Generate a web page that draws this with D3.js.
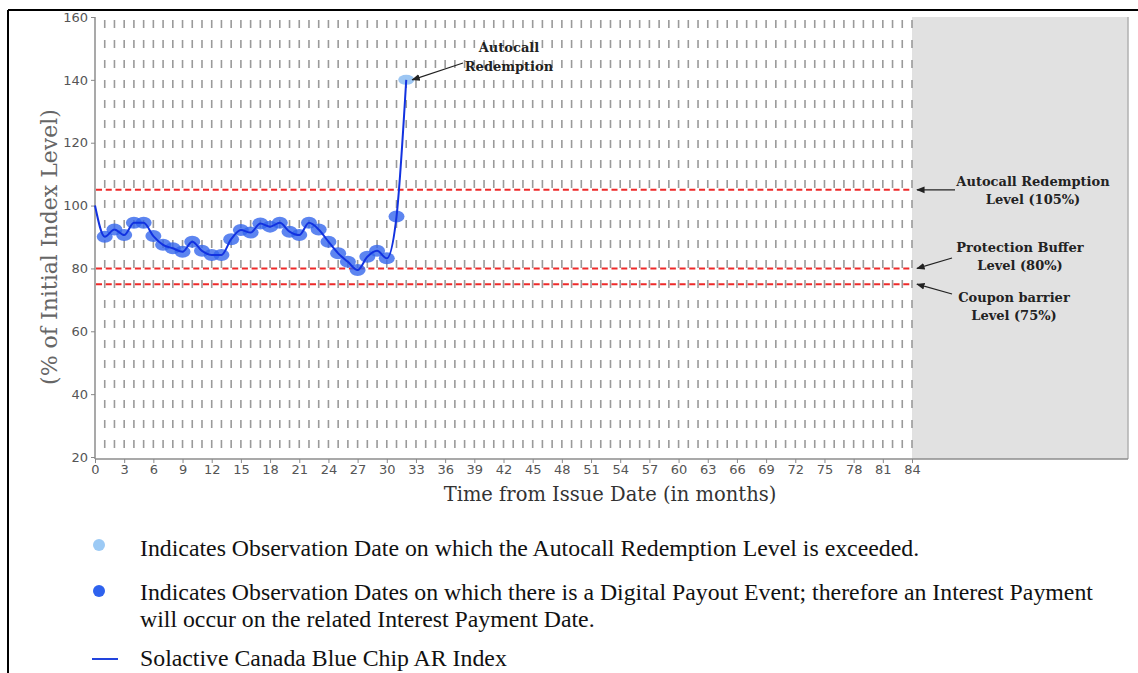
<!DOCTYPE html>
<html>
<head>
<meta charset="utf-8">
<script src="https://cdn.jsdelivr.net/npm/d3@7"></script>
<style>
  body { margin: 0; background: #fff; }
  svg { display: block; }
</style>
</head>
<body>
<div id="chart"></div>
<script>
// chart values
var months = [0, 1, 2, 3, 4, 5, 6, 7, 8, 9, 10, 11, 12, 13, 14, 15, 16, 17, 18, 19, 20, 21, 22, 23, 24, 25, 26, 27, 28, 29, 30, 31, 32];
var levels = [100, 90.1, 92.4, 90.6, 94.5, 94.5, 90.3, 87.5, 86.4, 85.3, 88.5, 85.6, 84.3, 84.3, 89.3, 92.2, 91.4, 94.3, 93.3, 94.5, 91.7, 90.6, 94.5, 92.4, 88.5, 84.8, 82.1, 79.5, 83.7, 85.6, 83.2, 96.5, 140];
var payoutMonths = d3.range(1, 32);
var autocallMonth = 32;
var barriers = [105, 80, 75];
var xTicks = d3.range(0, 85, 3);
var yTicks = [20, 40, 60, 80, 100, 120, 140, 160];
var legendTexts = [
  ["Indicates Observation Date on which the Autocall Redemption Level is exceeded."],
  ["Indicates Observation Dates on which there is a Digital Payout Event; therefore an Interest Payment", "will occur on the related Interest Payment Date."],
  ["Solactive Canada Blue Chip AR Index"]
];

var svgWidth = 1138, svgHeight = 673;

// plot area in page pixels
var plot = { left: 95, right: 1128, top: 17, bottom: 459 };

var svg = d3.select("#chart").append("svg")
  .attr("width", svgWidth)
  .attr("height", svgHeight);

var defs = svg.append("defs");
defs.append("marker")
  .attr("id", "arrow")
  .attr("viewBox", "0 0 10 10")
  .attr("refX", 9).attr("refY", 5)
  .attr("markerWidth", 7).attr("markerHeight", 7)
  .attr("orient", "auto")
  .append("path")
  .attr("d", "M0,1 L10,5 L0,9 z")
  .attr("fill", "#222");

var x = d3.scaleLinear().domain([0, 84]).range([plot.left, 912]);
var y = d3.scaleLinear().domain([20, 160]).range([457, 17]);

// page frame
svg.append("line").attr("x1", 8).attr("x2", 1138).attr("y1", 10).attr("y2", 10)
  .attr("stroke", "#000").attr("stroke-width", 2);
svg.append("line").attr("x1", 8).attr("x2", 8).attr("y1", 10).attr("y2", 673)
  .attr("stroke", "#000").attr("stroke-width", 2);

// grey zone after maturity
svg.append("rect")
  .attr("x", x(84)).attr("y", plot.top)
  .attr("width", plot.right - x(84)).attr("height", plot.bottom - plot.top)
  .attr("fill", "#e1e1e1");
svg.append("line").attr("x1", plot.right).attr("x2", plot.right)
  .attr("y1", plot.top).attr("y2", plot.bottom)
  .attr("stroke", "#b0b0b0").attr("stroke-width", 1.5);

// monthly dashed grid
svg.append("g").selectAll("line")
  .data(d3.range(1, 85))
  .enter().append("line")
  .attr("x1", d => x(d)).attr("x2", d => x(d))
  .attr("y1", 20).attr("y2", 450)
  .attr("stroke", "#9a9a9a")
  .attr("stroke-width", 1.6)
  .attr("stroke-dasharray", "8,12");

// red barrier lines
var step = x(1) - x(0);
svg.append("g").selectAll("line")
  .data(barriers)
  .enter().append("line")
  .attr("x1", x(0) + 1).attr("x2", x(84))
  .attr("y1", d => y(d)).attr("y2", d => y(d))
  .attr("stroke", "#ee2a2a")
  .attr("stroke-width", 2)
  .attr("stroke-dasharray", (0.62 * step) + "," + (0.38 * step));

// axes
var xAxis = svg.append("g")
  .attr("transform", "translate(0," + plot.bottom + ")")
  .call(d3.axisBottom(x).tickValues(xTicks).tickSize(4).tickPadding(2));
xAxis.select(".domain").attr("d", "M" + plot.left + ",0H" + plot.right);

var yAxis = svg.append("g")
  .attr("transform", "translate(" + plot.left + ",0)")
  .call(d3.axisLeft(y).tickValues(yTicks).tickSize(4).tickPadding(3));
yAxis.select(".domain").attr("d", "M0," + plot.top + "V" + plot.bottom);

svg.selectAll(".tick text")
  .attr("font-family", "DejaVu Sans, sans-serif")
  .attr("font-size", "13px")
  .attr("fill", "#555");
svg.selectAll(".tick line").attr("stroke", "#888");
svg.selectAll(".domain").attr("stroke", "#8c8c8c").attr("stroke-width", 1.5);

// axis titles
svg.append("text")
  .attr("x", 610).attr("y", 501)
  .attr("text-anchor", "middle")
  .attr("font-family", "DejaVu Serif, serif")
  .attr("font-size", "19.5px")
  .attr("fill", "#333")
  .text("Time from Issue Date (in months)");

svg.append("text")
  .attr("transform", "translate(57,247) rotate(-90)")
  .attr("text-anchor", "middle")
  .attr("font-family", "DejaVu Serif, serif")
  .attr("font-size", "22px")
  .attr("fill", "#666")
  .text("(% of Initial Index Level)");

// observation dots
var series = months.map((m, i) => ({ m: m, v: levels[i] }));
svg.append("g").selectAll("ellipse")
  .data(series.filter(d => payoutMonths.indexOf(d.m) >= 0))
  .enter().append("ellipse")
  .attr("cx", d => x(d.m)).attr("cy", d => y(d.v))
  .attr("rx", 8).attr("ry", 6)
  .attr("fill", "#3467ec")
  .attr("fill-opacity", 0.8);

svg.append("ellipse")
  .datum(series.find(d => d.m === autocallMonth))
  .attr("cx", d => x(d.m)).attr("cy", d => y(d.v))
  .attr("rx", 8).attr("ry", 5)
  .attr("fill", "#9cc6f3");

// index line
var line = d3.line()
  .x(d => x(d.m))
  .y(d => y(d.v))
  .curve(d3.curveMonotoneX);

svg.append("path")
  .datum(series)
  .attr("d", line)
  .attr("fill", "none")
  .attr("stroke", "#1232e0")
  .attr("stroke-width", 2);

// annotations
function annot(lines, cx, y0, lh, from, to) {
  var t = svg.append("text")
    .attr("text-anchor", "middle")
    .attr("font-family", "DejaVu Serif, serif")
    .attr("font-weight", "bold")
    .attr("font-size", "13px")
    .attr("fill", "#222");
  lines.forEach((s, i) => {
    t.append("tspan").attr("x", cx).attr("y", y0 + i * lh).text(s);
  });
  svg.append("line")
    .attr("x1", from[0]).attr("y1", from[1])
    .attr("x2", to[0]).attr("y2", to[1])
    .attr("stroke", "#222").attr("stroke-width", 1.2)
    .attr("marker-end", "url(#arrow)");
}

annot(["Autocall", "Redemption"], 509, 52, 19, [463, 63], [x(autocallMonth) + 6, y(140)]);
annot(["Autocall Redemption", "Level (105%)"], 1033, 186, 18, [955, y(105)], [x(84) + 5, y(105)]);
annot(["Protection Buffer", "Level (80%)"], 1020, 252, 18, [952, 258], [x(84) + 5, y(80)]);
annot(["Coupon barrier", "Level (75%)"], 1014, 302, 18, [952, 294], [x(84) + 5, y(75)]);

// legend below the chart
var legend = svg.append("g");
legend.append("circle").attr("cx", 99).attr("cy", 545).attr("r", 6).attr("fill", "#9ccaf5");
legend.append("circle").attr("cx", 99).attr("cy", 591).attr("r", 6).attr("fill", "#2e62ee");
legend.append("line").attr("x1", 92).attr("x2", 118).attr("y1", 659).attr("y2", 659)
  .attr("stroke", "#2244dd").attr("stroke-width", 2);

var legendY = [556, 600, 666];
legendTexts.forEach((lines, i) => {
  lines.forEach((s, j) => {
    legend.append("text")
      .attr("x", 140).attr("y", legendY[i] + j * 27)
      .attr("font-family", "Liberation Serif, Times New Roman, serif")
      .attr("font-size", "23.8px")
      .attr("fill", "#111")
      .text(s);
  });
});
</script>
</body>
</html>
